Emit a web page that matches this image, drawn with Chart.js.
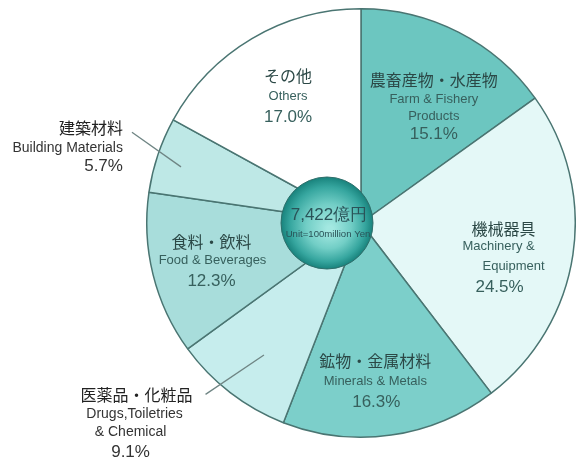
<!DOCTYPE html>
<html>
<head>
<meta charset="utf-8">
<script src="https://cdn.jsdelivr.net/npm/chart.js@4/dist/chart.umd.min.js"></script>
<style>
  html, body { margin: 0; padding: 0; background: #fff; }
  #wrap { width: 576px; height: 463px; position: relative; }
</style>
</head>
<body>
<div id="wrap"><canvas id="pie" width="576" height="463"></canvas></div>
<script>
// ============================================================
// DATA (clockwise from 12 o'clock)
// ============================================================
const namesJa = ["農畜産物・水産物", "機械器具", "鉱物・金属材料", "医薬品・化粧品", "食料・飲料", "建築材料", "その他"];
const namesEn = [["Farm & Fishery", "Products"], ["Machinery &", "Equipment"], ["Minerals & Metals"], ["Drugs,Toiletries", "& Chemical"], ["Food & Beverages"], ["Building Materials"], ["Others"]];
const shares = [15.1, 24.5, 16.3, 9.1, 12.3, 5.7, 17.0];
const totalText = "7,422億円";
const unitText = "Unit=100million Yen";

const sliceColors = ["#6cc6c0", "#e4f8f7", "#7ccfca", "#c6eded", "#a8dddb", "#bee8e6", "#ffffff"];

// label placement: t = fraction along slice, r = fraction of radius
const inside = {
  0: { t: 0.59, r: 0.64, dy: [-27, -7, 10, 28], dx: [0, 0, 0, 0] },
  1: { t: 0.56, r: 0.685, dy: [-29, -11, 9, 29], dx: [0, -5, 10, -4] },
  2: { t: 0.55, r: 0.742, dy: [-20, 0, 21], dx: [0, 0, 1] },
  4: { t: 0.49, r: 0.72, dy: [-19, -1, 20], dx: [0, 1, 0] },
  6: { t: 0.51, r: 0.681, dy: [-21, 0, 21], dx: [0, 0, 0] },
};
// outside labels with leader lines
const outside = {
  5: { t1: 0.44, r1: 0.88, t2: 0.65, r2: 1.15, align: "right", x: -9, dy: [-4, 16, 34], dx: [0, 0, 0] },
  3: { t1: 0.46, r1: 0.765, t2: 0.64, r2: 1.08, align: "center", x: -72, dy: [1, 20, 38, 58], dx: [3, 1, -3, -3] },
};

const JA = '"Noto Sans CJK JP", sans-serif';
const EN = '"Liberation Sans", Arial, sans-serif';

function polar(a, t, r) {
  const ang = a.startAngle + (a.endAngle - a.startAngle) * t;
  return { x: a.x + Math.cos(ang) * a.outerRadius * r, y: a.y + Math.sin(ang) * a.outerRadius * r };
}

function drawLines(ctx, lines, x, y, cfg, align) {
  ctx.textAlign = align;
  ctx.textBaseline = "middle";
  lines.forEach((ln, k) => {
    ctx.font = ln.font;
    ctx.fillStyle = ln.color;
    ctx.fillText(ln.text, x + cfg.dx[k], y + cfg.dy[k]);
  });
}

const labelPlugin = {
  id: "labels",
  afterDatasetsDraw(chart) {
    const ctx = chart.ctx;
    const arcs = chart.getDatasetMeta(0).data;
    ctx.save();

    Object.keys(inside).forEach((key) => {
      const i = +key;
      const cfg = inside[i];
      const a = arcs[i].getProps(["x", "y", "startAngle", "endAngle", "outerRadius"], true);
      const p = polar(a, cfg.t, cfg.r);
      const lines = [{ text: namesJa[i], font: "16px " + JA, color: "#2b4846" }];
      namesEn[i].forEach((t) => lines.push({ text: t, font: "13px " + EN, color: "#37605d" }));
      lines.push({ text: shares[i].toFixed(1) + "%", font: "17px " + EN, color: "#37605d" });
      drawLines(ctx, lines, p.x, p.y, cfg, "center");
    });

    Object.keys(outside).forEach((key) => {
      const i = +key;
      const cfg = outside[i];
      const a = arcs[i].getProps(["x", "y", "startAngle", "endAngle", "outerRadius"], true);
      const p1 = polar(a, cfg.t1, cfg.r1);
      const p2 = polar(a, cfg.t2, cfg.r2);
      ctx.strokeStyle = "#6f8584";
      ctx.lineWidth = 1.3;
      ctx.beginPath();
      ctx.moveTo(p1.x, p1.y);
      ctx.lineTo(p2.x, p2.y);
      ctx.stroke();
      const lines = [{ text: namesJa[i], font: "16px " + JA, color: "#222" }];
      namesEn[i].forEach((t) => lines.push({ text: t, font: "14px " + EN, color: "#333" }));
      lines.push({ text: shares[i].toFixed(1) + "%", font: "17px " + EN, color: "#333" });
      drawLines(ctx, lines, p2.x + cfg.x, p2.y, cfg, cfg.align);
    });

    // centre ball
    const a0 = arcs[0];
    const cx = a0.x - 34, cy = a0.y;
    const R = 46;
    const g = ctx.createRadialGradient(cx + 3, cy + 6, 3, cx, cy, R);
    g.addColorStop(0, "#a3e8e1");
    g.addColorStop(0.45, "#72cec6");
    g.addColorStop(0.8, "#36a69f");
    g.addColorStop(1, "#18827c");
    ctx.beginPath();
    ctx.arc(cx, cy, R, 0, Math.PI * 2);
    ctx.fillStyle = g;
    ctx.fill();
    ctx.strokeStyle = "#2f6f6b";
    ctx.lineWidth = 1;
    ctx.stroke();
    ctx.textAlign = "center";
    ctx.textBaseline = "middle";
    ctx.fillStyle = "#2a5358";
    ctx.font = "17px " + EN;
    ctx.fillText(totalText, cx + 2, cy - 8);
    ctx.font = "9.6px " + EN;
    ctx.fillText(unitText, cx + 1, cy + 11);
    ctx.restore();
  },
};

new Chart(document.getElementById("pie"), {
  type: "pie",
  data: {
    labels: namesJa,
    datasets: [{
      data: shares,
      backgroundColor: sliceColors,
      borderColor: "#4a7572",
      borderWidth: 1.5,
    }],
  },
  options: {
    responsive: false,
    animation: false,
    devicePixelRatio: 1,
    layout: { padding: { left: 146, right: 0, top: 8, bottom: 25 } },
    plugins: { legend: { display: false }, tooltip: { enabled: false } },
  },
  plugins: [labelPlugin],
});
</script>
</body>
</html>
